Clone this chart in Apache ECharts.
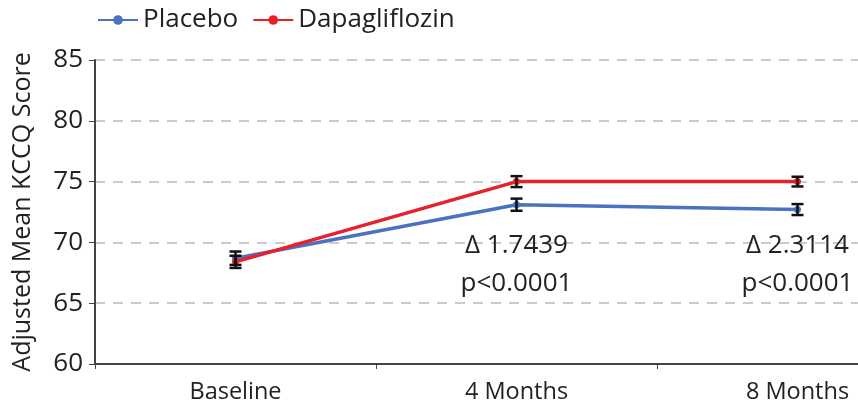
<!DOCTYPE html>
<html><head><meta charset="utf-8">
<script src="https://cdn.jsdelivr.net/npm/echarts@6/dist/echarts.min.js"></script>
<style>html,body{margin:0;padding:0;background:#fff;overflow:hidden;width:858px;height:409px}#c{width:938px;height:409px}</style>
</head><body><div id="c"></div>
<script>
var categories = ['Baseline', '4 Months', '8 Months'];
var placeboMean = [68.7, 73.1, 72.7];
var placeboErr = [0.55, 0.5, 0.45];
var dapaMean = [68.4, 75.0, 75.0];
var dapaErr = [0.5, 0.45, 0.4];
var annotCats = ['4 Months', '4 Months', '8 Months', '8 Months'];
var annotY = [69.7, 66.6, 69.7, 66.6];
var annotText = ['\u0394 1.7439', 'p<0.0001', '\u0394 2.3114', 'p<0.0001'];
var yTicks = [60, 65, 70, 75, 80, 85];

var FONT = 'Open Sans';
var chart = echarts.init(document.getElementById('c'), null, {renderer: 'canvas'});

function errSeries(means, errs) {
  return {
    type: 'custom',
    silent: true,
    z: 5,
    data: means.map(function (m, i) { return [i, m - errs[i], m + errs[i]]; }),
    renderItem: function (params, api) {
      var lo = api.coord([api.value(0), api.value(1)]);
      var hi = api.coord([api.value(0), api.value(2)]);
      var w = 6;
      var st = {stroke: '#111', lineWidth: 2.5};
      return {type: 'group', children: [
        {type: 'line', shape: {x1: lo[0], y1: lo[1], x2: hi[0], y2: hi[1]}, style: st},
        {type: 'line', shape: {x1: lo[0] - w, y1: lo[1], x2: lo[0] + w, y2: lo[1]}, style: st},
        {type: 'line', shape: {x1: hi[0] - w, y1: hi[1], x2: hi[0] + w, y2: hi[1]}, style: st}
      ]};
    }
  };
}

chart.setOption({
  animation: false,
  textStyle: {fontFamily: FONT},
  legend: {
    left: 92, top: 2,
    itemWidth: 40, itemHeight: 12, itemGap: 14,
    textStyle: {fontSize: 26, color: '#222', fontFamily: FONT},
    data: ['Placebo', 'Dapagliflozin']
  },
  grid: {left: 95, top: 60, bottom: 45, right: 0},
  xAxis: {
    type: 'category', data: categories,
    axisLine: {lineStyle: {color: '#444', width: 2}},
    axisTick: {show: true, length: 5, lineStyle: {color: '#444'}},
    axisLabel: {fontSize: 23.5, color: '#222', margin: 16, fontFamily: FONT}
  },
  yAxis: {
    type: 'value', min: 60, max: 85, interval: 5,
    name: 'Adjusted Mean KCCQ Score', nameLocation: 'middle', nameGap: 60,
    nameTextStyle: {fontSize: 25, color: '#222', fontFamily: FONT},
    axisLine: {show: true, lineStyle: {color: '#444', width: 2}},
    axisTick: {show: true, length: 6, lineStyle: {color: '#444'}},
    axisLabel: {fontSize: 26, color: '#222', margin: 12, fontFamily: FONT,
      formatter: function (v) { return yTicks.indexOf(v) >= 0 ? String(v) : ''; }},
    splitLine: {show: true, lineStyle: {color: '#bbb', type: [10, 8], width: 1.5}}
  },
  series: [
    {name: 'Placebo', type: 'line', data: placeboMean, symbol: 'circle', symbolSize: 7,
     lineStyle: {color: '#4a72c0', width: 3.5}, itemStyle: {color: '#4a72c0'}, z: 3},
    {name: 'Dapagliflozin', type: 'line', data: dapaMean, symbol: 'circle', symbolSize: 7,
     lineStyle: {color: '#e8202a', width: 3.5}, itemStyle: {color: '#e8202a'}, z: 4},
    errSeries(placeboMean, placeboErr),
    errSeries(dapaMean, dapaErr),
    {type: 'custom', silent: true, z: 6,
     data: annotCats.map(function (c, i) { return [categories.indexOf(c), annotY[i], i]; }),
     renderItem: function (params, api) {
       var p = api.coord([api.value(0), api.value(1)]);
       return {type: 'text', x: p[0], y: p[1], style: {
         text: annotText[api.value(2)], fill: '#222', font: '26px "' + FONT + '"',
         align: 'center', verticalAlign: 'middle'}};
     }}
  ]
});
</script></body></html>
